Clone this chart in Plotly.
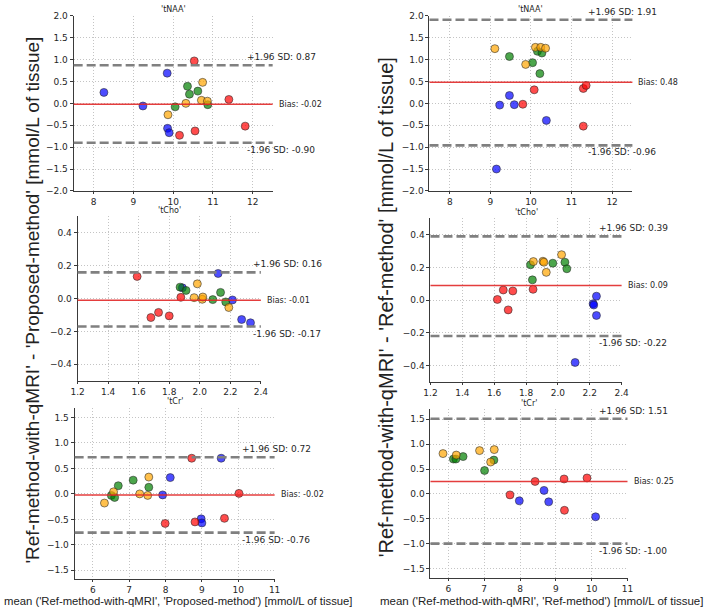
import plotly.graph_objects as go

W, H = 709, 613

# ---------------- data ----------------
# group codes: B=blue, R=red, G=green, O=orange
naa_prop_mean = [8.26, 9.24, 9.85, 9.86, 9.90, 10.53, 10.16, 10.55, 11.40, 11.81,
                 10.05, 10.36, 10.41, 10.62, 10.87, 9.87, 10.32, 10.74, 10.71, 10.86]
naa_prop_diff = [0.25, -0.06, 0.69, -0.57, -0.67, 0.97, -0.73, -0.63, 0.09, -0.52,
                 -0.08, 0.39, 0.21, 0.28, -0.03, -0.26, 0.00, 0.48, 0.07, 0.05]
naa_prop_grp = ["B"] * 5 + ["R"] * 5 + ["G"] * 5 + ["O"] * 5

cho_prop_mean = [1.886, 2.12, 2.214, 2.274, 2.332, 1.59, 1.68, 1.73, 1.80, 1.876,
                 1.871, 1.91, 2.085, 2.136, 2.17, 1.984, 1.963, 2.016, 2.02, 2.19]
cho_prop_diff = [0.066, 0.153, -0.008, -0.127, -0.147, 0.135, -0.115, -0.084, -0.105, 0.008,
                 0.07, 0.05, -0.006, 0.038, -0.02, 0.09, 0.006, -0.004, 0.01, -0.054]
cho_prop_grp = ["B"] * 5 + ["R"] * 5 + ["G"] * 5 + ["O"] * 5

cr_prop_mean = [8.13, 9.53, 8.98, 9.00, 8.72, 7.99, 8.81, 9.62, 10.02,
                6.51, 6.60, 6.70, 7.11, 7.54, 6.32, 6.57, 7.29, 7.54, 7.51, 7.92]
cr_prop_diff = [0.32, 0.70, -0.49, -0.57, 0.70, -0.58, -0.55, -0.48, 0.01,
                -0.03, -0.07, 0.16, 0.27, 0.13, -0.18, 0.04, 0.00, 0.33, -0.03, -0.02]
cr_prop_grp = ["B"] * 4 + ["R"] * 5 + ["G"] * 5 + ["O"] * 5 + ["B"]

naa_ref_mean = [9.23, 9.47, 9.59, 10.38, 9.15, 9.80, 10.08, 11.29, 11.36, 11.29,
                9.47, 10.04, 10.16, 10.27, 10.22, 9.11, 9.87, 10.11, 10.24, 10.36]
naa_ref_diff = [-0.04, 0.18, -0.03, -0.39, -1.50, -0.02, 0.31, 0.34, 0.41, -0.52,
                1.07, 0.93, 1.19, 1.15, 0.68, 1.25, 0.89, 1.28, 1.28, 1.26]
naa_ref_grp = ["B"] * 5 + ["R"] * 5 + ["G"] * 5 + ["O"] * 5

cho_ref_mean = [2.221, 2.225, 2.242, 2.242, 2.108, 1.62, 1.657, 1.717, 1.688, 1.844,
                1.828, 1.84, 1.968, 2.044, 2.056, 1.846, 1.906, 1.912, 1.927, 2.023]
cho_ref_diff = [-0.022, -0.03, 0.024, -0.094, -0.382, 0.004, 0.062, 0.056, -0.06, 0.066,
                0.216, 0.124, 0.226, 0.232, 0.192, 0.236, 0.238, 0.232, 0.17, 0.278]
cho_ref_grp = ["B"] * 5 + ["R"] * 5 + ["G"] * 5 + ["O"] * 5

cr_ref_mean = [7.98, 8.67, 8.80, 10.11, 7.72, 8.42, 9.23, 9.87, 9.24,
               6.14, 6.21, 6.41, 7.01, 7.27, 5.85, 6.22, 6.87, 7.28, 7.18]
cr_ref_diff = [-0.14, 0.07, -0.16, -0.46, -0.02, 0.25, 0.30, 0.32, -0.33,
               0.70, 0.70, 0.75, 0.47, 0.68, 0.81, 0.78, 0.87, 0.89, 0.64]
cr_ref_grp = ["B"] * 4 + ["R"] * 5 + ["G"] * 5 + ["O"] * 5

metabolites = ["'tNAA'", "'tCho'", "'tCr'", "'tNAA'", "'tCho'", "'tCr'"]
bias_vals = [-0.02, -0.01, -0.02, 0.48, 0.09, 0.25]
upper_vals = [0.87, 0.16, 0.72, 1.91, 0.39, 1.51]
lower_vals = [-0.90, -0.17, -0.76, -0.96, -0.22, -1.00]

y_label_left = "'Ref-method-with-qMRI' - 'Proposed-method' [mmol/L of tissue]"
y_label_right = "'Ref-method-with-qMRI' - 'Ref-method' [mmol/L of tissue]"
x_label_left = "mean ('Ref-method-with-qMRI', 'Proposed-method') [mmol/L of tissue]"
x_label_right = "mean ('Ref-method-with-qMRI', 'Ref-method') [mmol/L of tissue]"

panel_means = [naa_prop_mean, cho_prop_mean, cr_prop_mean, naa_ref_mean, cho_ref_mean, cr_ref_mean]
panel_diffs = [naa_prop_diff, cho_prop_diff, cr_prop_diff, naa_ref_diff, cho_ref_diff, cr_ref_diff]
panel_grps = [naa_prop_grp, cho_prop_grp, cr_prop_grp, naa_ref_grp, cho_ref_grp, cr_ref_grp]

# ---------------- style ----------------
colors = {"B": "rgba(0,0,255,0.7)", "R": "rgba(255,0,0,0.7)",
          "G": "rgba(0,128,0,0.7)", "O": "rgba(255,165,0,0.7)"}

# pixel boxes (x0, x1, ytop, ybottom)
boxes = [(68, 271, 11, 189), (72, 259, 215, 382), (69, 273, 410, 584),
         (431, 638, 11, 189), (432, 627, 217, 383), (432, 633, 411, 583)]
xranges = [[7.5, 12.5], [1.2, 2.4], [5.5, 11], [7.5, 12.5], [1.2, 2.4], [5.5, 11]]
yranges = [[-2, 2], [-0.5, 0.5], [-1.68, 1.68], [-2, 2], [-0.5, 0.5], [-1.7, 1.7]]
xdticks = [1, 0.2, 1, 1, 0.2, 1]
ydticks = [0.5, 0.2, 0.5, 0.5, 0.2, 0.5]
xfmts = ["d", ".1f", "d", "d", ".1f", "d"]
title_y = [5, 209, 403, 5, 211, 405]
sd_text_x = [243, 249, 238, 591, 602, 602]

def px(x):
    return x / W

def py(y):
    return 1 - y / H

fig = go.Figure()
tick_font = dict(family="DejaVu Sans", size=9, color="#262626")
ann = []
shapes = []

for i in range(6):
    n = "" if i == 0 else str(i + 1)
    xa, ya = "x" + n, "y" + n
    x0, x1, yt, yb = boxes[i]
    axis_common = dict(showline=True, linecolor="#3a3a3a", linewidth=1, mirror=False,
                       ticks="outside", tickcolor="#3a3a3a", tickwidth=1,
                       showgrid=True, gridcolor="#c4c4c4", griddash="1px,2px", gridwidth=1,
                       zeroline=False, tickfont=tick_font)
    fig.layout["xaxis" + n] = dict(domain=[px(x0), px(x1)], range=xranges[i], anchor=ya,
                                   dtick=xdticks[i], tick0=0, tickformat=xfmts[i], ticklen=2,
                                   **axis_common)
    fig.layout["yaxis" + n] = dict(domain=[py(yb), py(yt)], range=yranges[i], anchor=xa,
                                   dtick=ydticks[i], tick0=0, tickformat=".1f", ticklen=3,
                                   **axis_common)

    # bias and limits of agreement
    shapes.append(dict(type="line", xref=xa + " domain", yref=ya, x0=0, x1=1,
                       y0=bias_vals[i], y1=bias_vals[i],
                       line=dict(color="rgba(225,40,40,0.9)", width=1.5)))
    for v in (upper_vals[i], lower_vals[i]):
        shapes.append(dict(type="line", xref=xa + " domain", yref=ya, x0=0, x1=1,
                           y0=v, y1=v, line=dict(color="#808080", width=2.6, dash="9px,4px")))

    mx, dy, gr = panel_means[i], panel_diffs[i], panel_grps[i]
    fig.add_trace(go.Scatter(
        x=mx, y=dy, mode="markers", xaxis=xa, yaxis=ya, showlegend=False,
        marker=dict(size=8, color=[colors[g] for g in gr],
                    line=dict(color="rgba(40,40,40,0.8)", width=0.7))))

    # title
    ann.append(dict(text=metabolites[i], xref="paper", yref="paper",
                    x=px((x0 + x1) / 2), y=py(title_y[i]), xanchor="center", yanchor="middle",
                    showarrow=False, font=dict(family="DejaVu Sans", size=8, color="#262626")))
    # labels
    ann.append(dict(text=f"+1.96 SD: {upper_vals[i]:.2f}", xref="paper", yref=ya,
                    x=px(sd_text_x[i]), y=upper_vals[i], yshift=8, xanchor="left", yanchor="middle",
                    showarrow=False, font=dict(family="DejaVu Sans", size=9, color="#262626")))
    ann.append(dict(text=f"-1.96 SD: {lower_vals[i]:.2f}", xref="paper", yref=ya,
                    x=px(sd_text_x[i]), y=lower_vals[i], yshift=-7, xanchor="left", yanchor="middle",
                    showarrow=False, font=dict(family="DejaVu Sans", size=9, color="#262626")))
    ann.append(dict(text=f"Bias: {bias_vals[i]:.2f}", xref=xa + " domain", yref=ya,
                    x=1, xshift=4, y=bias_vals[i], xanchor="left", yanchor="middle",
                    showarrow=False, font=dict(family="DejaVu Sans", size=8, color="#262626")))

# axis titles
ann.append(dict(text=y_label_left, xref="paper", yref="paper", x=px(26), y=py(300),
                textangle=-90, xanchor="center", yanchor="middle", showarrow=False,
                font=dict(family="Liberation Sans", size=19, color="#222222")))
ann.append(dict(text=y_label_right, xref="paper", yref="paper", x=px(387), y=py(307),
                textangle=-90, xanchor="center", yanchor="middle", showarrow=False,
                font=dict(family="Liberation Sans", size=20, color="#222222")))
ann.append(dict(text=x_label_left, xref="paper", yref="paper", x=px(175), y=0,
                xanchor="center", yanchor="bottom", showarrow=False, borderpad=0,
                font=dict(family="Liberation Sans", size=11.3, color="#222222")))
ann.append(dict(text=x_label_right, xref="paper", yref="paper", x=px(545), y=0,
                xanchor="center", yanchor="bottom", showarrow=False, borderpad=0,
                font=dict(family="Liberation Sans", size=11.5, color="#222222")))

fig.update_layout(width=W, height=H, margin=dict(l=0, r=0, t=0, b=0),
                  paper_bgcolor="white", plot_bgcolor="white",
                  annotations=ann, shapes=shapes)

fig.write_html("out.html")
